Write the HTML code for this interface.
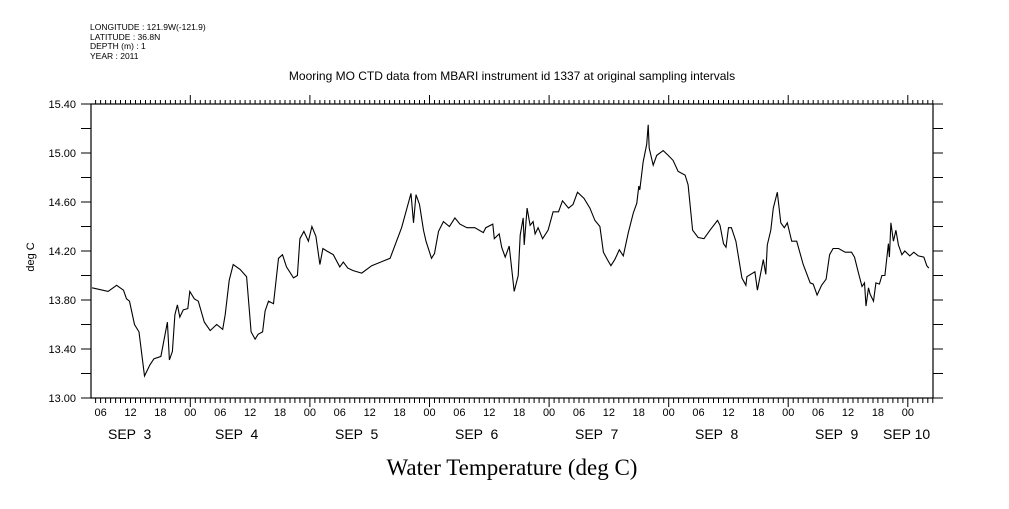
<!DOCTYPE html>
<html><head><meta charset="utf-8"><style>
body{margin:0;background:#fff;width:1009px;height:504px;overflow:hidden}
svg text{font-family:"Liberation Sans",sans-serif;fill:#000}
</style></head><body>
<svg id="chart" width="1009" height="504" xmlns="http://www.w3.org/2000/svg">
<g font-size="8.5">
<text x="90" y="30">LONGITUDE : 121.9W(-121.9)</text>
<text x="90" y="40">LATITUDE : 36.8N</text>
<text x="90" y="49">DEPTH (m) : 1</text>
<text x="90" y="59">YEAR : 2011</text>
</g>
<text x="512" y="80" text-anchor="middle" font-size="12">Mooring MO CTD data from MBARI instrument id 1337 at original sampling intervals</text>
<text x="512" y="475" text-anchor="middle" font-size="23" style="font-family:'Liberation Serif',serif">Water Temperature (deg C)</text>
<text transform="translate(34,257) rotate(-90)" text-anchor="middle" font-size="11">deg C</text>
<rect x="91" y="104" width="842" height="294" fill="none" stroke="#000" stroke-width="1.2"/>
<g id="axes"></g>
<g id="series"></g>
</svg>
<script>
const hours=[4.3,7.5,9.2,10.6,11.2,11.8,12.8,13.7,14.8,15.9,16.7,18.1,19.4,19.8,20.4,20.9,21.4,21.9,22.6,23.5,23.9,24.8,25.6,26.8,28.0,29.3,30.5,31.0,31.8,32.6,34.0,35.3,36.2,37.0,37.6,38.5,39.0,39.7,40.7,41.7,42.5,43.3,44.7,45.5,46.0,46.8,47.7,48.4,49.2,50.0,50.6,51.4,52.7,54.0,54.7,55.6,56.7,58.4,60.4,64.1,66.4,68.3,68.8,69.3,70.0,70.8,71.3,72.4,73.0,73.8,74.8,76.0,77.1,78.1,79.5,81.1,82.8,83.3,84.7,85.0,86.0,86.5,87.2,88.0,89.0,89.8,90.2,90.8,91.0,91.6,92.2,92.8,93.2,93.8,94.7,95.8,96.8,97.9,98.7,99.9,100.8,101.7,103.0,104.2,105.2,106.2,106.9,107.7,108.4,109.2,110.1,110.9,111.9,112.9,113.6,114.0,114.2,114.9,115.6,115.9,116.1,116.9,117.6,118.9,119.9,120.9,121.9,123.3,123.9,124.8,125.9,127.1,128.3,129.8,130.3,131.0,131.5,132.0,132.6,133.5,134.7,135.5,135.7,137.3,137.8,138.2,139.0,139.5,139.8,140.5,141.0,141.8,142.5,143.2,143.8,144.7,145.7,147.0,148.4,149.0,149.8,150.7,151.6,152.3,153.0,154.1,155.4,156.7,157.3,158.1,158.8,159.3,159.6,160.1,160.4,161.1,161.6,162.3,162.8,163.4,164.1,164.3,164.6,165.1,165.6,166.1,166.8,167.4,168.4,169.2,170.1,171.2,171.8,172.2];
const temps=[13.90,13.87,13.92,13.88,13.81,13.79,13.60,13.54,13.18,13.27,13.32,13.34,13.62,13.31,13.38,13.68,13.76,13.66,13.72,13.73,13.87,13.81,13.79,13.62,13.55,13.60,13.56,13.68,13.96,14.09,14.05,13.99,13.54,13.48,13.52,13.54,13.71,13.79,13.77,14.14,14.17,14.07,13.98,14.00,14.30,14.36,14.28,14.40,14.32,14.09,14.22,14.20,14.17,14.07,14.11,14.06,14.04,14.02,14.08,14.14,14.39,14.67,14.43,14.66,14.58,14.37,14.28,14.14,14.18,14.36,14.44,14.40,14.47,14.42,14.39,14.39,14.35,14.39,14.42,14.30,14.34,14.23,14.15,14.24,13.87,14.00,14.33,14.47,14.25,14.55,14.41,14.44,14.34,14.39,14.30,14.37,14.52,14.52,14.61,14.55,14.58,14.68,14.63,14.55,14.45,14.40,14.19,14.13,14.08,14.13,14.21,14.16,14.35,14.51,14.59,14.73,14.70,14.93,15.07,15.23,15.04,14.90,14.98,15.02,14.98,14.94,14.85,14.82,14.74,14.37,14.31,14.30,14.37,14.45,14.41,14.26,14.23,14.39,14.39,14.28,13.98,13.92,13.99,14.03,13.88,13.96,14.13,14.01,14.25,14.37,14.55,14.68,14.43,14.39,14.43,14.28,14.28,14.09,13.94,13.93,13.84,13.92,13.97,14.17,14.22,14.22,14.19,14.19,14.15,14.02,13.91,13.94,13.75,13.90,13.85,13.79,13.94,13.93,14.00,14.00,14.26,14.15,14.43,14.28,14.37,14.25,14.17,14.20,14.16,14.19,14.16,14.15,14.08,14.06];
const yTicks=[13.00,13.40,13.80,14.20,14.60,15.00,15.40];
const hourLabels=["06","12","18","00"];
const dayLabels=["SEP  3","SEP  4","SEP  5","SEP  6","SEP  7","SEP  8","SEP  9","SEP 10"];
const X0=91,X1=933,Y0=398,Y1=104,H0=4.07,H1=173.05,V0=13.0,V1=15.4;
function xOf(h){return X0+(h-H0)*(X1-X0)/(H1-H0);}
function yOf(v){return Y0-(v-V0)*(Y0-Y1)/(V1-V0);}
const NS="http://www.w3.org/2000/svg";
const axes=document.getElementById('axes');
function mk(tag,attrs,parent){const e=document.createElementNS(NS,tag);for(const k in attrs)e.setAttribute(k,attrs[k]);parent.appendChild(e);return e;}
let d="";
for(let v=13.0;v<=15.401;v+=0.2){const y=yOf(v).toFixed(1);d+=`M${X0-10} ${y}H${X0}M${X1} ${y}H${X1+10}`;}
for(let h=5;h<=H1;h++){const x=xOf(h).toFixed(1);const big=h%24===0;d+=`M${x} ${Y1}V${Y1-(big?9:4)}M${x} ${Y0}V${Y0+(big?9:5)}`;}
const tp=mk('path',{d:d,stroke:'#000','stroke-width':1,fill:'none'},axes);


yTicks.forEach(v=>{const t=mk('text',{x:76,y:yOf(v)+4,'text-anchor':'end','font-size':11},axes);t.textContent=v.toFixed(2);

});
for(let h=6;h<=H1;h+=6){const t=mk('text',{x:xOf(h),y:416,'text-anchor':'middle','font-size':11},axes);t.textContent=hourLabels[(h/6-1)%4];

}
const dayX=[108,215,335,455,575,695,815,883];
dayLabels.forEach((s,i)=>{const t=mk('text',{x:dayX[i],y:439,'font-size':14,'xml:space':'preserve'},axes);t.style.whiteSpace='pre';t.textContent=s;

});
const pts=hours.map((h,i)=>xOf(h).toFixed(1)+','+yOf(temps[i]).toFixed(1)).join(' ');
const line=mk('polyline',{points:pts,fill:'none',stroke:'#000','stroke-width':1.1},document.getElementById('series'));


</script>
</body></html>
